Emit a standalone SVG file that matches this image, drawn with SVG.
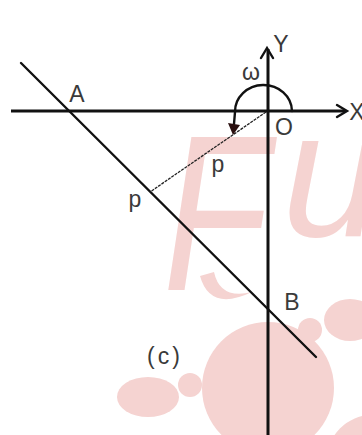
<svg xmlns="http://www.w3.org/2000/svg" width="362" height="435" viewBox="0 0 362 435">
<style>
.wm{fill:#f5d3d1}
.wmt{fill:#f5d3d1;font-family:"Liberation Sans",sans-serif;font-style:italic}
.ax{stroke:#111;stroke-width:3;fill:none}
.ln{stroke:#111;stroke-width:2.4;fill:none;stroke-linecap:round}
.lbl{font-family:"Liberation Sans",Arial,sans-serif;font-size:23px;fill:#3a3a3a}
</style>
<g id="watermark">
<text class="wmt" transform="translate(163,290) scale(0.78,1)" font-size="222">F</text>
<text class="wmt" x="282" y="236" font-size="180">u</text>
<circle class="wm" cx="268" cy="388" r="66"/>
<circle class="wm" cx="190" cy="385" r="12"/>
<ellipse class="wm" cx="148" cy="397" rx="31" ry="20"/>
<circle class="wm" cx="310" cy="330" r="12"/>
<ellipse class="wm" cx="350" cy="320" rx="26" ry="21"/>
<path class="wm" d="M200 276 Q210 312 252 292 Q220 300 214 272 Z"/>
<circle class="wm" cx="372" cy="460" r="45"/>
</g>
<g id="connectors">
<line class="ax" x1="11" y1="111" x2="346" y2="111"/>
<polyline class="ln" points="337,105 347,111 337,117" stroke-width="2.2"/>
<line class="ax" x1="268" y1="49" x2="268" y2="435"/>
<polyline class="ln" points="261,58 267,48 273,58" stroke-width="2.2"/>
<line class="ln" x1="21" y1="63" x2="316" y2="357"/>
<line x1="266" y1="112" x2="150" y2="192" stroke="#222" stroke-width="1.3" stroke-dasharray="3,1"/>
<path class="ln" d="M292 111 A28 26 0 1 0 235 112 L234 124"/>
<polygon points="228,123 240,125 233,135" fill="#2a0f0f"/>
</g>
<g id="labels">
<text class="lbl" x="77" y="102" text-anchor="middle">A</text>
<text class="lbl" x="284" y="135" text-anchor="middle">O</text>
<text class="lbl" x="281" y="52" text-anchor="middle">Y</text>
<text class="lbl" x="357" y="120" text-anchor="middle">X</text>
<text class="lbl" x="251" y="80" text-anchor="middle" font-size="19">ω</text>
<text class="lbl" x="218" y="172" text-anchor="middle">p</text>
<text class="lbl" x="135" y="207" text-anchor="middle">p</text>
<text class="lbl" x="292" y="310" text-anchor="middle">B</text>
<text class="lbl" x="165" y="364" text-anchor="middle" letter-spacing="3">(c)</text>
</g>
</svg>
